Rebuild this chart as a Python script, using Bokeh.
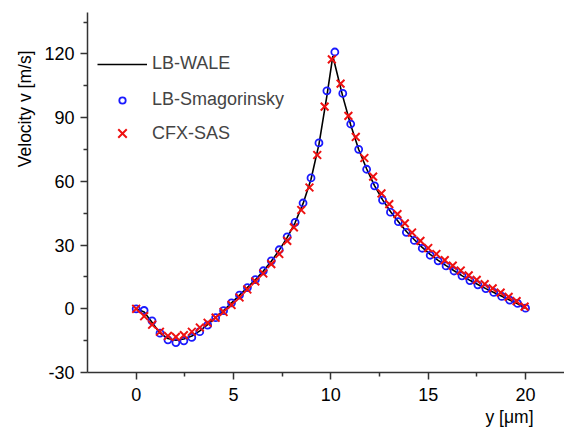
from bokeh.plotting import figure
from bokeh.models import Range1d, Legend, LegendItem, Title, FixedTicker
from bokeh.embed import file_html
from bokeh.resources import INLINE

# ---- data ----
lb_x = [round(i * 20 / 49, 3) for i in range(50)]
smag_v = [0, -0.8, -5.7, -11.5, -14.6, -15.9, -15.1, -13.5, -10.8, -7.7,
          -4.2, -0.9, 2.8, 6.4, 10.0, 13.7, 17.9, 22.6, 27.8, 33.9,
          40.7, 49.8, 61.6, 78.1, 102.6, 120.9, 101.4, 87.0, 75.1, 65.7,
          57.9, 51.2, 45.5, 41.0, 36.0, 32.2, 28.5, 25.2, 22.6, 20.2,
          17.8, 15.5, 13.3, 11.3, 9.5, 7.7, 5.8, 4.1, 2.5, 0.3]

wale_x = [0, 0.41, 0.82, 1.22, 1.63, 2.04, 2.45, 2.86, 3.27, 3.67,
          4.08, 4.49, 4.90, 5.31, 5.71, 6.12, 6.53, 6.94, 7.35, 7.76,
          8.16, 8.57, 8.98, 9.39, 9.80, 10.1, 10.61, 11.02, 11.43, 11.84,
          12.24, 12.65, 13.06, 13.47, 13.88, 14.29, 14.69, 15.10, 15.51, 15.92,
          16.33, 16.73, 17.14, 17.55, 17.96, 18.37, 18.78, 19.18, 19.59, 20.0]
wale_v = [0, -1.5, -6.5, -11.5, -14.0, -14.8, -14.2, -12.8, -10.4, -7.5,
          -4.2, -0.8, 2.8, 6.4, 10.0, 13.7, 17.8, 22.4, 27.6, 33.6,
          40.5, 49.5, 61.0, 77.5, 100.5, 119.0, 100.0, 86.5, 75.0, 65.8,
          58.0, 51.4, 45.8, 41.0, 36.4, 32.5, 28.9, 25.6, 22.8, 20.3,
          17.9, 15.6, 13.4, 11.4, 9.5, 7.7, 5.9, 4.1, 2.4, 0.2]

cfx_x = [0, 0.41, 0.82, 1.22, 1.63, 2.04, 2.45, 2.86, 3.27, 3.67,
         4.08, 4.49, 4.90, 5.31, 5.71, 6.12, 6.53, 6.94, 7.35, 7.76,
         8.10, 8.48, 8.90, 9.30, 9.68, 10.05, 10.50, 10.90, 11.28, 11.72,
         12.17, 12.60, 13.00, 13.42, 13.80, 14.17, 14.60, 15.00, 15.42, 15.85,
         16.26, 16.67, 17.08, 17.49, 17.90, 18.31, 18.72, 19.13, 19.54, 19.95]
cfx_v = [0, -3.5, -7.5, -10.8, -12.8, -13.2, -12.4, -10.8, -8.8, -6.6,
         -4.2, -1.5, 1.8, 5.3, 9.1, 12.9, 16.6, 21.0, 25.8, 32.0,
         38.3, 46.5, 57.1, 72.4, 95.2, 117.4, 106.0, 90.8, 80.9, 71.0,
         62.2, 54.3, 49.3, 44.6, 40.2, 35.9, 32.0, 28.6, 25.8, 22.9,
         20.3, 18.0, 15.7, 13.6, 11.6, 9.6, 7.6, 5.6, 3.6, 1.0]

x_ticks = [0, 5, 10, 15, 20]
y_ticks = [-30, 0, 30, 60, 90, 120]
x_minor = [2.5, 7.5, 12.5, 17.5]
y_minor = [-15, 15, 45, 75, 105, 135]
y_tick_labels = {-30: "-30", 0: "0", 30: "30", 60: "60", 90: "90", 120: "120"}

FONT = "Liberation Sans"
AX = "#333333"

p = figure(width=564, height=436, output_backend="svg", toolbar_location=None,
           x_range=Range1d(-2.5, 22.0), y_range=Range1d(-30, 139.5),
           min_border_left=87, min_border_right=0, min_border_top=12,
           min_border_bottom=64)
p.outline_line_color = None
p.grid.visible = False
p.background_fill_color = "white"
p.border_fill_color = "white"

for ax in (p.xaxis[0], p.yaxis[0]):
    ax.axis_line_color = AX
    ax.axis_line_width = 1.5
    ax.major_tick_line_color = AX
    ax.major_tick_line_width = 1.5
    ax.minor_tick_line_color = AX
    ax.minor_tick_line_width = 1.5
    ax.major_tick_out = 7
    ax.major_tick_in = 0
    ax.minor_tick_out = 4
    ax.minor_tick_in = 0
    ax.major_label_text_font = FONT
    ax.major_label_text_font_size = "18px"
    ax.major_label_text_color = "black"

p.xaxis[0].ticker = FixedTicker(ticks=x_ticks, minor_ticks=x_minor)
p.yaxis[0].ticker = FixedTicker(ticks=y_ticks, minor_ticks=y_minor)
p.yaxis[0].major_label_overrides = y_tick_labels
p.xaxis[0].major_label_standoff = 8
p.yaxis[0].major_label_standoff = 6

r_wale = p.line(wale_x, wale_v, line_color="black", line_width=1.6)
r_smag = p.scatter(lb_x, smag_v, marker="circle", size=7, fill_color=None,
                   line_color="#1a1aff", line_width=1.8)
r_cfx = p.scatter(cfx_x, cfx_v, marker="x", size=11, line_color="#ee1111",
                  line_width=2)

common = dict(orientation="vertical", glyph_width=50, label_standoff=5,
              padding=0, margin=0, border_line_color=None,
              background_fill_alpha=0, label_text_font=FONT,
              label_text_font_size="18px")
legend_a = Legend(items=[LegendItem(label="LB-WALE", renderers=[r_wale]),
                         LegendItem(label="LB-Smagorinsky", renderers=[r_smag])],
                  location=(10, 262), glyph_height=16, label_height=16,
                  spacing=15, **common)
legend_b = Legend(items=[LegendItem(label="CFX-SAS", renderers=[r_cfx])],
                  location=(10, 224), glyph_height=30, label_height=30,
                  spacing=0, **common)
p.add_layout(legend_a)
p.add_layout(legend_b)

p.add_layout(Title(text="Velocity v [m/s]", align="right", offset=38,
                   text_font=FONT, text_font_size="17.5px",
                   text_font_style="normal", text_color="black",
                   standoff=14), "left")
p.add_layout(Title(text="y [\u03bcm]", align="right", offset=31,
                   text_font=FONT, text_font_size="17.5px",
                   text_font_style="normal", text_color="black",
                   standoff=3), "below")

open("out.html", "w").write(file_html(p, INLINE))
